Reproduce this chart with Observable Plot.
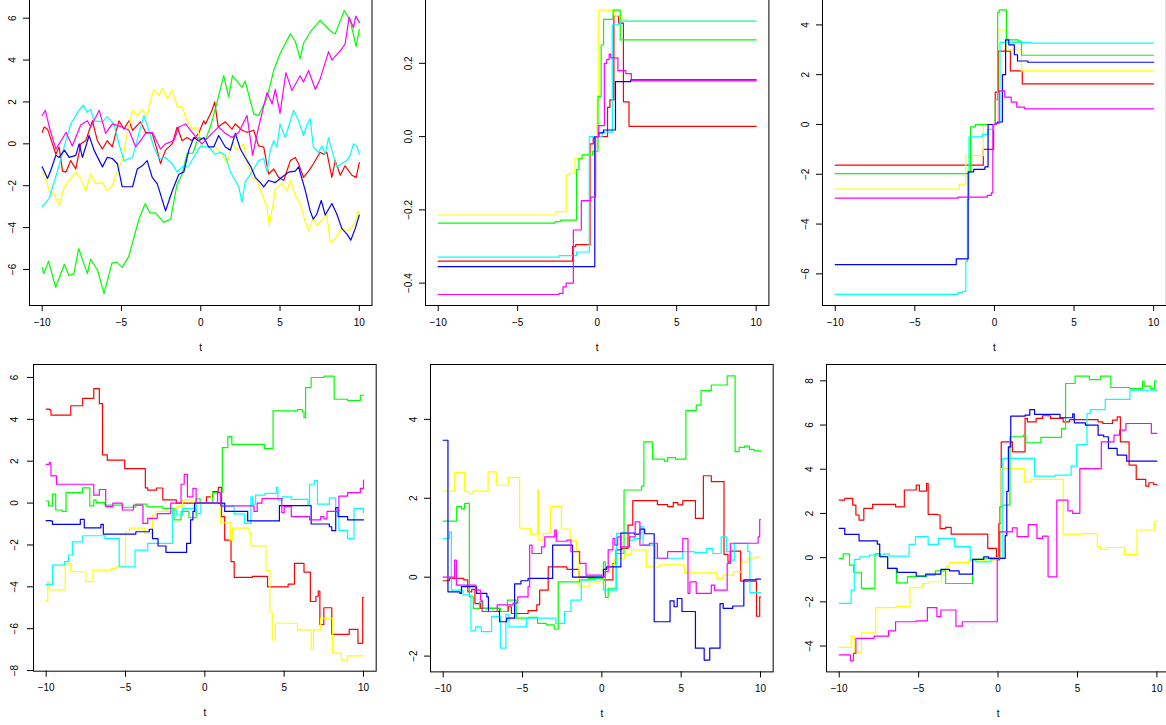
<!DOCTYPE html>
<html><head><meta charset="utf-8">
<script src="https://cdn.jsdelivr.net/npm/d3@7"></script>
<script src="https://cdn.jsdelivr.net/npm/@observablehq/plot@0.6"></script>
<style>
body{margin:0;background:#fff;}
#wrap{position:relative;width:1166px;height:725px;overflow:hidden;background:#fff;}
#wrap svg{position:absolute;}
</style></head><body><div id="wrap"></div>
<script>
const seriesNames = ["red","yellow","green","cyan","blue","magenta"];
const seriesColors = ["#FF0000","#FFFF00","#00FF00","#00FFFF","#0000FF","#FF00FF"];
const xTicks = [-10,-5,0,5,10];
const xLabel = "t";

// ---- Panel 1 (continuous paths), [t, value]
const p1_red = [[-10,0.55],[-9.87,0.8],[-9.66,0.7],[-9.35,0],[-9.14,-0.5],[-8.93,-0.15],[-8.72,-1.3],[-8.5,-1.35],[-8.2,-0.8],[-7.88,-1.2],[-7.57,0],[-7.25,0.15],[-6.83,1.1],[-6.52,0.15],[-6.2,-0.25],[-5.9,0.15],[-5.58,-0.15],[-5.16,1.1],[-4.84,0.7],[-4.53,1.1],[-4.3,0.65],[-3.8,1.05],[-3.48,0.55],[-3.06,0.5],[-2.75,-0.3],[-2.54,-0.95],[-2.22,-0.3],[-1.8,0],[-1.49,0.8],[-1.17,0.15],[-0.86,0.3],[-0.54,0.15],[-0.13,0.5],[0.19,1.1],[0.3,0.95],[0.71,1.6],[0.88,2.0],[1.1,0.8],[1.55,1.05],[1.97,0.7],[2.18,0.95],[2.6,0.65],[2.92,0.55],[3.34,0.65],[3.65,-0.1],[3.97,-0.15],[4.28,-1.45],[4.6,-1.2],[4.91,-1.6],[5.23,-1.75],[5.65,-0.8],[5.96,-0.65],[6.17,-0.95],[6.48,-1.6],[6.8,-1.3],[7.11,-0.95],[7.53,-0.4],[7.74,-0.5],[7.95,-0.4],[8.27,-1.6],[8.48,-0.8],[8.8,-1.5],[9.1,-1.05],[9.53,-1.5],[9.8,-1.6],[10,-0.9]];
const p1_yellow = [[-10,-1.35],[-9.77,-1.6],[-9.56,-2.25],[-9.25,-2.4],[-8.93,-2.95],[-8.6,-2.05],[-8.3,-1.75],[-7.88,-1.35],[-7.57,-1.65],[-7.25,-2.25],[-6.94,-1.45],[-6.62,-1.9],[-6.2,-1.85],[-5.9,-2.25],[-5.58,-2.0],[-5.26,-1.3],[-4.95,-0.8],[-4.63,0.5],[-4.3,1.6],[-4.0,1.35],[-3.69,1.65],[-3.38,1.35],[-3.17,2.05],[-2.96,2.6],[-2.64,2.3],[-2.43,2.65],[-2.1,2.15],[-1.8,2.55],[-1.49,1.8],[-1.17,1.75],[-0.86,1.1],[-0.54,0.7],[-0.23,0.8],[0.08,-0.15],[0.5,-0.15],[0.92,-0.15],[1.34,-0.5],[1.66,-0.95],[1.97,0],[2.29,-0.3],[2.7,0],[2.92,-0.8],[3.23,-1.6],[3.55,-1.75],[3.86,-2.4],[4.18,-3.0],[4.32,-3.9],[4.6,-2.7],[4.7,-2.15],[5.12,-1.9],[5.44,-2.25],[5.65,-1.75],[5.96,-2.45],[6.27,-2.85],[6.6,-3.75],[6.8,-4.15],[7.1,-3.5],[7.32,-3.9],[7.64,-3.65],[7.95,-3.35],[8.16,-4.7],[8.48,-4.55],[8.69,-4.3],[8.9,-4.0],[9.21,-4.15],[9.53,-4.0],[9.74,-3.75],[9.9,-3.2],[10,-3.35]];
const p1_green = [[-10,-5.9],[-9.9,-6.2],[-9.6,-5.6],[-9.15,-6.85],[-8.6,-5.75],[-8.3,-6.3],[-8.0,-6.2],[-7.7,-5.0],[-7.15,-6.2],[-6.95,-5.5],[-6.5,-6.05],[-6.1,-7.15],[-5.6,-5.7],[-5.3,-5.65],[-4.95,-5.9],[-4.55,-5.4],[-3.9,-3.6],[-3.5,-2.85],[-3.2,-3.3],[-2.85,-3.3],[-2.35,-3.75],[-1.9,-3.6],[-1.5,-1.95],[-1.2,-1.5],[-0.85,-0.45],[-0.5,-0.45],[-0.15,0.3],[0.3,0.2],[0.6,0.8],[1.0,1.9],[1.45,3.26],[1.76,2.23],[2.0,3.26],[2.6,2.7],[2.8,3.0],[3.34,1.43],[3.65,1.35],[4.18,2.2],[4.6,3.5],[5.0,4.3],[5.65,5.25],[5.96,4.9],[6.27,4.06],[6.48,4.8],[6.9,5.33],[7.53,5.9],[8.16,5.4],[8.48,5.25],[9.05,6.37],[9.42,5.9],[9.8,4.65],[10,5.45]];
const p1_cyan = [[-10,-3.0],[-9.56,-2.6],[-9.04,-1.3],[-8.6,-0.1],[-8.2,0.95],[-7.67,1.6],[-7.42,1.85],[-7.15,1.5],[-6.94,1.65],[-6.73,1.1],[-6.2,1.05],[-5.9,1.3],[-5.47,0.95],[-5.16,0],[-4.84,-0.8],[-4.3,-0.65],[-3.9,0.5],[-3.58,1.35],[-3.27,0.65],[-2.96,-0.15],[-2.64,-0.7],[-2.22,-0.65],[-1.8,-0.95],[-1.49,-1.35],[-1.17,-1.1],[-0.75,-1.05],[-0.33,-0.5],[0,-0.1],[0.5,-0.15],[0.92,-0.5],[1.24,-0.4],[1.55,-0.55],[1.87,-1.35],[2.18,-1.75],[2.4,-2.05],[2.6,-2.8],[2.8,-1.8],[3.0,-1.6],[3.34,-1.2],[3.65,-0.8],[3.97,-0.7],[4.18,-1.35],[4.39,-0.3],[4.6,0.15],[4.8,-0.15],[5.0,0.95],[5.33,0.3],[5.65,1.1],[5.86,1.6],[6.17,1.1],[6.48,0.4],[6.69,0.9],[6.9,1.2],[7.1,-0.15],[7.43,-0.4],[7.64,-0.1],[7.85,-0.5],[8.06,0.3],[8.27,-0.3],[8.58,-1.1],[8.9,-0.95],[9.21,-0.8],[9.42,-0.55],[9.63,0],[9.84,-0.1],[10,-0.5]];
const p1_blue = [[-10,-1.1],[-9.66,-1.65],[-9.45,-1.25],[-9.14,-0.55],[-8.93,-0.65],[-8.6,-0.3],[-8.3,-0.65],[-7.88,-0.55],[-7.67,0],[-7.46,-0.65],[-7.04,0.4],[-6.73,-0.3],[-6.2,-1.1],[-5.9,-0.65],[-5.58,-0.7],[-5.26,-0.95],[-4.95,-2.05],[-4.63,-2.05],[-4.3,-2.05],[-4.0,-1.2],[-3.69,-1.05],[-3.38,-0.8],[-3.06,-1.6],[-2.75,-1.9],[-2.54,-2.4],[-2.22,-3.2],[-1.8,-2.25],[-1.38,-1.45],[-1.07,-1.35],[-0.75,-0.3],[-0.44,0.3],[-0.13,0.15],[0.2,0.3],[0.5,-0.15],[0.82,-0.15],[1.13,0.4],[1.55,-0.15],[1.87,-0.3],[2.18,0.5],[2.5,-0.25],[2.8,-0.65],[3.13,-1.05],[3.44,-1.6],[3.76,-1.85],[3.97,-2.05],[4.28,-1.75],[4.7,-1.85],[5.12,-1.6],[5.54,-1.35],[5.96,-1.3],[6.17,-1.1],[6.6,-2.25],[6.9,-3.2],[7.1,-3.6],[7.32,-3.35],[7.6,-2.7],[7.85,-3.4],[8.27,-2.85],[8.58,-3.35],[8.9,-4.05],[9.21,-4.3],[9.46,-4.6],[9.74,-4.05],[10,-3.4]];
const p1_magenta = [[-10,1.35],[-9.8,1.6],[-9.55,0.8],[-9.14,-0.25],[-8.8,0.15],[-8.5,0.55],[-8.1,-0.1],[-7.57,0.9],[-7.15,1.1],[-6.94,0.8],[-6.4,1.6],[-6.0,0.5],[-5.58,0.95],[-4.95,0.8],[-4.53,0.65],[-4.1,-0.15],[-3.8,0.15],[-3.48,0.5],[-3.06,0.55],[-2.54,-0.25],[-2.22,0],[-1.7,0.15],[-1.38,0.8],[-0.96,0.95],[-0.54,0.55],[-0.13,0.15],[0.08,0],[0.71,0.5],[1.13,0.8],[1.55,0.5],[1.97,0.3],[2.4,0.55],[2.92,1.35],[3.27,-0.55],[3.65,0.8],[4.18,2.45],[4.5,1.9],[4.7,2.6],[5.0,1.45],[5.37,3.4],[5.75,2.55],[6.27,3.25],[6.48,2.95],[6.8,3.5],[7.22,2.6],[7.53,3.1],[8.06,4.4],[8.27,4.0],[8.8,4.45],[9.1,4.75],[9.36,6.05],[9.63,5.55],[9.78,6.1],[10,5.8]];

// ---- Panel 2 (step paths), [t where level starts, level]
const p2_red = [[-10,-0.34],[-1.55,-0.30],[-1.35,-0.295],[-0.45,-0.02],[-0.25,0.0],[0.65,0.08],[0.8,0.10],[1.05,0.33],[1.35,0.31],[1.65,0.095],[2.0,0.028],[10,0.028]];
const p2_yellow = [[-10,-0.214],[-2.6,-0.205],[-1.95,-0.105],[-1.75,-0.10],[-1.4,-0.06],[-0.85,-0.05],[-0.25,-0.03],[0.0,0.10],[0.1,0.345],[1.0,0.345],[1.1,0.33],[1.55,0.32],[1.9,0.315],[10,0.315]];
const p2_green = [[-10,-0.236],[-2.65,-0.232],[-2.3,-0.228],[-1.3,-0.09],[-1.15,-0.06],[-0.95,-0.05],[-0.3,-0.04],[0.05,0.11],[0.25,0.25],[0.4,0.32],[1.0,0.345],[1.45,0.264],[10,0.264]];
const p2_cyan = [[-10,-0.329],[-2.4,-0.325],[-1.3,-0.315],[-0.5,0.0],[0.3,0.012],[0.95,0.305],[1.45,0.315],[10,0.315]];
const p2_blue = [[-10,-0.355],[-0.15,0.0],[0.1,0.01],[0.4,0.018],[1.15,0.15],[2.1,0.155],[10,0.155]];
const p2_magenta = [[-10,-0.431],[-2.4,-0.428],[-2.15,-0.41],[-1.95,-0.40],[-1.5,-0.255],[-1.0,-0.175],[-0.4,-0.165],[-0.1,0.0],[0.1,0.03],[0.45,0.2],[0.6,0.21],[0.75,0.225],[0.85,0.215],[1.3,0.18],[1.8,0.172],[2.15,0.152],[10,0.152]];

// ---- Panel 3
const p3_red = [[-10,-1.63],[-0.7,-1.0],[-0.05,0.0],[0.05,1.3],[0.25,2.95],[1.0,2.15],[1.75,1.63],[10,1.63]];
const p3_yellow = [[-10,-2.6],[-2.2,-2.4],[-1.8,-1.25],[-0.7,0.0],[0.2,3.8],[0.75,3.0],[1.7,2.15],[10,2.15]];
const p3_green = [[-10,-1.97],[-1.65,-1.92],[-1.5,-0.1],[-1.2,0.0],[0.05,1.0],[0.2,4.5],[0.3,4.6],[0.75,3.4],[1.5,3.35],[1.7,2.78],[10,2.78]];
const p3_cyan = [[-10,-6.82],[-2.3,-6.75],[-2.0,-6.7],[-1.8,-5.5],[-1.7,-3.0],[-1.6,-0.5],[-0.75,-0.4],[-0.4,-0.2],[-0.05,0.0],[0.1,0.05],[0.35,3.3],[2.3,3.27],[10,3.27]];
const p3_blue = [[-10,-5.63],[-2.4,-5.4],[-1.65,-1.9],[-1.3,-1.8],[-0.6,-1.7],[-0.4,0.0],[0.1,0.05],[0.2,0.1],[0.5,2.0],[0.7,3.4],[0.9,3.2],[1.25,2.8],[1.45,2.55],[2.1,2.5],[10,2.5]];
const p3_magenta = [[-10,-2.96],[-2.3,-2.92],[-0.45,-2.85],[-0.2,-2.75],[-0.1,0.0],[0.1,0.05],[0.3,1.35],[0.65,1.1],[1.05,0.9],[1.4,0.7],[1.9,0.63],[10,0.63]];

// ---- Panel 4
const p4_red = [[-10,4.49],[-9.8,4.45],[-9.7,4.2],[-8.45,4.65],[-7.7,5.0],[-7.0,5.47],[-6.65,4.75],[-6.45,2.3],[-6.15,2.05],[-5.05,1.65],[-3.75,0.73],[-3.6,0.62],[-3.05,0.72],[-2.65,0.15],[-1.8,0.0],[0.1,0.3],[0.5,0.55],[0.85,0.75],[1.05,-0.65],[1.25,-1.77],[1.65,-2.8],[1.85,-3.55],[3.0,-3.5],[3.95,-4.0],[5.25,-3.87],[5.65,-2.88],[6.25,-3.3],[6.65,-4.7],[7.0,-4.45],[7.15,-4.2],[7.25,-5.8],[7.5,-5.0],[8.0,-6.27],[9.1,-6.03],[9.65,-6.7],[9.95,-4.5],[10,-4.5]];
const p4_yellow = [[-10,-4.66],[-9.9,-3.75],[-9.8,-4.15],[-8.8,-2.9],[-8.45,-3.28],[-7.5,-3.75],[-7.05,-3.2],[-5.9,-3.12],[-5.6,-3.04],[-5.0,-1.37],[-4.75,-1.2],[-3.8,-1.45],[-3.3,-0.57],[-3.1,-0.4],[-2.0,-0.25],[-1.8,-0.18],[-1.4,0.15],[-0.8,0.06],[-0.15,0.0],[0.4,0.46],[0.98,-0.94],[1.6,-1.77],[1.75,-1.2],[2.8,-1.4],[2.9,-2.04],[3.85,-3.23],[4.1,-5.2],[4.25,-6.54],[4.45,-5.74],[5.85,-6.06],[6.7,-7.0],[6.85,-6.06],[7.3,-5.5],[8.05,-7.17],[8.6,-7.5],[9.0,-7.3],[10,-7.3]];
const p4_green = [[-10,0.1],[-9.85,-0.13],[-9.6,0.43],[-9.4,-0.33],[-9.0,-0.4],[-8.75,0.5],[-7.7,0.73],[-7.25,-0.13],[-7.0,0.15],[-6.85,0.02],[-6.3,-0.1],[-5.2,-0.2],[-4.35,-0.05],[-3.65,-0.18],[-2.65,-0.25],[-1.95,-0.8],[-1.5,-0.4],[-1.0,-0.7],[-0.55,0.2],[-0.3,0.0],[0.5,0.5],[1.1,2.65],[1.45,3.17],[1.7,2.8],[3.75,2.6],[4.3,4.4],[5.85,4.47],[6.15,4.35],[6.25,4.08],[6.35,5.52],[6.7,6.0],[7.5,6.06],[8.15,4.96],[9.0,4.9],[9.8,5.15],[10,5.15]];
const p4_cyan = [[-10,-3.88],[-9.6,-2.96],[-8.85,-2.8],[-8.6,-2.48],[-8.35,-1.85],[-7.7,-1.56],[-6.3,-1.7],[-5.4,-3.04],[-4.4,-2.25],[-3.6,-1.92],[-2.05,-0.33],[-1.8,-0.57],[-1.4,-0.25],[-0.55,-0.5],[-0.25,0.0],[1.1,-0.17],[1.85,-0.52],[2.5,-0.97],[2.9,0.3],[3.0,-0.05],[3.2,0.38],[3.8,0.46],[4.5,0.75],[4.6,0.15],[4.9,0.3],[5.45,0.18],[6.5,-0.1],[6.6,0.9],[6.9,1.07],[7.1,-0.05],[7.85,0.25],[8.25,-0.42],[8.45,-1.3],[9.0,-1.7],[9.4,-0.25],[10,-0.45]];
const p4_blue = [[-10,-0.84],[-9.7,-0.86],[-9.6,-1.02],[-7.85,-0.78],[-7.6,-1.18],[-6.55,-1.02],[-6.4,-1.48],[-4.35,-1.37],[-3.5,-1.25],[-3.3,-1.7],[-2.95,-2.05],[-2.45,-2.35],[-1.15,-1.92],[-0.9,-0.8],[-0.75,-0.4],[-0.65,0.0],[1.25,-0.4],[2.7,-0.85],[4.7,-0.12],[6.7,-1.0],[7.85,-1.13],[8.0,-1.32],[8.25,-0.22],[8.4,-0.65],[9.0,-0.8],[10,-0.8]];
const p4_magenta = [[-10,1.85],[-9.8,1.93],[-9.7,1.3],[-9.35,0.9],[-7.0,0.38],[-6.65,0.65],[-6.25,-0.17],[-5.8,0.0],[-5.2,-0.33],[-4.5,-0.1],[-3.9,-0.97],[-3.6,-0.73],[-3.0,-0.5],[-2.15,0.0],[-1.5,0.9],[-1.3,1.37],[-1.1,0.3],[-0.75,0.7],[-0.55,0.0],[0.8,0.5],[1.0,-0.13],[3.1,-0.4],[3.3,0.0],[3.6,0.22],[4.85,-0.45],[5.0,-0.17],[5.45,-0.65],[6.6,-0.8],[7.3,-0.65],[7.5,-0.75],[7.7,-0.4],[8.45,0.33],[9.0,0.5],[9.8,0.7],[10,1.1]];

// ---- Panel 5
const p5_red = [[-10,-0.09],[-9.6,-0.03],[-8.7,-0.07],[-8.45,-0.37],[-8.2,-0.31],[-8.0,-0.67],[-7.65,-0.79],[-6.45,-0.87],[-5.9,-0.75],[-5.7,-0.92],[-4.65,-0.85],[-4.1,-0.7],[-3.92,-0.33],[-3.38,0.26],[-2.2,0.2],[-1.45,0.0],[0.1,-0.07],[0.7,0.35],[0.9,0.69],[1.25,0.73],[1.65,1.32],[1.95,1.94],[3.5,1.84],[4.15,1.79],[4.5,1.89],[4.8,1.83],[5.1,1.94],[5.9,1.49],[6.4,2.57],[6.9,2.42],[7.7,0.58],[7.95,0.39],[8.1,0.66],[8.75,-0.1],[9.75,-0.99],[9.95,-0.5],[10,-0.5]];
const p5_yellow = [[-10,2.18],[-9.28,2.65],[-8.65,2.17],[-8.35,2.12],[-8.15,2.18],[-7.17,2.67],[-6.65,2.33],[-5.9,2.53],[-5.18,1.24],[-4.5,1.09],[-4.05,2.2],[-3.97,0.94],[-3.7,1.11],[-3.23,1.79],[-2.55,1.22],[-2.0,0.94],[-1.6,0.69],[-1.45,-0.23],[-0.77,-0.12],[0.1,0.1],[0.5,0.31],[0.8,0.48],[1.45,0.58],[1.85,0.69],[2.8,0.26],[3.65,0.31],[5.2,0.11],[7.25,-0.03],[7.65,0.05],[8.3,0.14],[8.8,0.39],[9.2,0.48],[9.6,0.5],[10,0.5]];
const p5_green = [[-10,1.42],[-9.15,1.79],[-8.85,1.73],[-8.65,1.87],[-8.35,-0.5],[-8.1,-0.79],[-7.7,-0.62],[-7.5,-0.79],[-6.4,-0.87],[-5.95,-0.58],[-5.4,-1.04],[-4.65,-1.02],[-4.05,-1.17],[-3.5,-1.21],[-3.0,-1.32],[-2.75,-0.12],[-1.4,-0.07],[-0.85,-0.03],[0.1,0.39],[0.22,-0.51],[0.4,-0.28],[0.9,0.6],[1.4,2.21],[2.5,2.31],[2.65,3.43],[3.2,2.99],[3.95,2.94],[4.15,3.03],[4.65,2.99],[5.3,4.22],[5.95,4.36],[6.25,4.73],[6.9,4.87],[7.9,5.1],[8.4,3.18],[8.65,3.29],[9.0,3.32],[9.3,3.24],[9.6,3.2],[10,3.18]];
const p5_cyan = [[-10,0.98],[-9.6,1.15],[-9.48,-0.33],[-8.75,-0.45],[-8.25,-1.36],[-7.95,-1.26],[-7.6,-1.38],[-6.95,-1.0],[-6.4,-1.8],[-6.05,-0.94],[-5.85,-1.26],[-4.75,-1.04],[-2.9,-1.17],[-2.35,-0.87],[-1.95,-0.58],[-1.3,-0.07],[-0.35,0.01],[0.1,-0.33],[0.92,1.11],[1.75,0.94],[2.05,0.98],[2.45,1.28],[2.6,0.81],[3.35,0.48],[5.1,0.65],[5.85,0.62],[6.6,0.73],[7.0,0.6],[7.52,1.02],[7.85,0.65],[8.15,0.43],[8.35,0.86],[9.2,0.65],[9.33,-0.39],[10,-0.39]];
const p5_blue = [[-10,3.47],[-9.7,-0.37],[-8.95,-0.41],[-8.85,-0.24],[-7.9,-0.41],[-7.25,-0.5],[-7.15,-0.87],[-6.45,-1.13],[-6.0,-1.04],[-5.5,-0.17],[-5.1,-0.09],[-4.65,-0.03],[-3.1,0.81],[-1.85,0.0],[0.1,0.2],[0.3,0.26],[1.2,1.12],[2.05,1.09],[2.4,1.22],[2.7,1.1],[3.3,-1.13],[4.3,-0.6],[4.55,-0.75],[4.75,-0.54],[5.05,-0.87],[5.9,-1.8],[6.45,-2.1],[6.8,-1.8],[7.45,-0.67],[7.65,-0.79],[8.25,-0.73],[8.95,-0.07],[9.7,-0.05],[10,-0.05]];
const p5_magenta = [[-10,0.0],[-9.28,0.43],[-9.17,-0.2],[-7.95,-0.33],[-7.65,-0.58],[-7.55,-0.87],[-6.6,-0.7],[-5.6,-0.66],[-5.3,-0.5],[-4.65,-0.24],[-4.55,0.81],[-4.4,0.6],[-3.8,0.77],[-3.6,1.02],[-2.97,1.19],[-2.87,0.91],[-2.2,0.94],[-1.95,0.65],[-1.4,0.35],[-1.0,0.05],[0.0,0.01],[0.2,0.14],[0.4,0.69],[0.7,0.98],[0.82,0.81],[1.0,1.02],[1.2,0.77],[1.75,1.02],[2.1,1.4],[2.4,0.81],[3.0,0.86],[3.5,0.48],[4.15,0.65],[5.1,0.98],[5.43,-0.41],[5.55,-0.12],[5.95,-0.41],[6.9,-0.2],[7.1,-0.33],[7.9,0.35],[8.1,0.86],[9.85,1.02],[9.95,1.46],[10,1.46]];

// ---- Panel 6
const p6_red = [[-10,2.6],[-9.65,2.68],[-9.15,2.38],[-8.95,1.93],[-8.75,1.7],[-8.45,2.23],[-7.9,2.41],[-6.45,2.3],[-5.9,3.06],[-5.15,3.28],[-4.95,3.01],[-4.5,3.36],[-4.4,1.96],[-3.8,1.93],[-3.65,1.31],[-3.3,1.37],[-2.95,1.06],[-0.65,0.42],[-0.1,0.04],[0.05,1.55],[0.2,5.24],[0.9,4.79],[1.7,6.3],[1.85,6.14],[2.4,6.3],[2.8,6.42],[3.3,6.3],[4.1,6.14],[4.5,6.25],[6.3,6.14],[6.6,6.07],[7.2,6.22],[7.5,6.37],[7.7,5.24],[8.25,4.19],[8.7,3.54],[9.3,3.24],[9.5,3.39],[9.8,3.31],[10,3.31]];
const p6_yellow = [[-10,-4.06],[-9.25,-3.55],[-9.05,-4.3],[-8.6,-3.4],[-7.7,-2.26],[-6.45,-2.22],[-5.55,-1.36],[-4.75,-1.17],[-4.35,-1.09],[-3.55,-0.79],[-3.3,-0.41],[-3.05,-0.23],[-1.85,-0.11],[0.0,0.04],[0.2,4.03],[1.65,3.43],[2.05,3.54],[4.1,1.06],[5.35,1.09],[6.25,0.49],[6.45,0.37],[6.85,0.46],[7.95,0.14],[8.75,1.25],[9.85,1.64],[10,1.64]];
const p6_green = [[-10,-0.03],[-9.75,0.17],[-9.35,-0.34],[-9.1,-0.66],[-8.6,-1.39],[-7.75,0.17],[-7.4,0.04],[-6.95,-0.49],[-6.4,-1.14],[-5.7,-0.86],[-4.5,-0.79],[-3.95,-0.6],[-3.3,-1.17],[-1.6,-0.08],[-0.95,-0.02],[0.1,2.3],[0.3,2.38],[0.75,5.47],[1.6,5.54],[1.75,5.2],[2.7,5.44],[4.0,5.84],[4.25,7.88],[4.85,8.21],[5.75,8.06],[6.45,8.21],[7.1,7.7],[8.3,7.65],[9.1,7.99],[9.2,7.76],[9.6,7.65],[9.85,7.99],[10,7.99]];
const p6_cyan = [[-10,-2.07],[-9.25,-1.47],[-9.05,-0.08],[-8.7,0.04],[-8.1,0.12],[-7.2,0.17],[-6.85,0.07],[-5.6,0.6],[-5.2,0.95],[-4.4,0.6],[-3.75,0.87],[-2.75,0.5],[-1.75,-0.11],[-1.4,-0.19],[-0.45,-0.08],[0.1,-0.02],[0.3,4.49],[2.3,3.69],[3.6,3.73],[4.6,4.14],[4.95,5.12],[5.6,6.52],[5.8,6.7],[6.75,7.16],[8.3,7.58],[10,7.58]];
const p6_blue = [[-10,1.32],[-9.65,1.05],[-8.75,0.76],[-7.6,0.61],[-7.45,0.04],[-6.95,-0.49],[-6.35,-0.67],[-5.15,-0.83],[-4.55,-0.75],[-3.6,-0.53],[-3.05,-0.6],[-2.45,-0.75],[-1.6,-0.08],[-0.9,0.04],[-0.6,-0.03],[0.45,1.0],[0.55,3.0],[0.65,5.01],[0.8,6.4],[1.7,6.45],[2.0,6.7],[2.3,6.48],[3.9,6.33],[4.7,6.51],[4.8,6.1],[5.5,6.0],[6.3,5.54],[6.65,5.47],[6.95,4.94],[7.5,4.64],[8.1,4.37],[10,4.37]];
const p6_magenta = [[-10,-4.4],[-9.3,-4.67],[-9.1,-4.33],[-8.95,-3.65],[-7.8,-3.55],[-6.9,-3.31],[-6.45,-2.9],[-5.15,-2.86],[-4.45,-2.26],[-3.85,-2.67],[-3.6,-2.37],[-2.65,-3.1],[-2.25,-2.9],[-0.05,-0.1],[0.1,1.17],[0.9,1.35],[1.2,0.95],[1.9,1.49],[2.45,0.87],[2.8,0.97],[3.15,-0.87],[3.7,2.6],[4.4,2.12],[4.7,2.0],[5.15,4.03],[6.5,5.24],[7.3,5.54],[7.65,5.77],[8.05,6.07],[9.65,5.62],[10,5.62]];

// y tick values and labels
const p1_yTicks = [-6,-4,-2,0,2,4,6];
const p2_yTicks = [-0.4,-0.2,0,0.2];
const p2_yTickLabels = ["\u22120.4","\u22120.2","0.0","0.2"];
const p3_yTicks = [-6,-4,-2,0,2,4];
const p4_yTicks = [-8,-6,-4,-2,0,2,4,6];
const p5_yTicks = [-2,0,2,4];
const p6_yTicks = [-8 + 4, -2, 0, 2, 4, 6, 8];

const fmtInt = d => d < 0 ? "\u2212" + Math.abs(d) : String(d);

const panels = [
  {series:[p1_red,p1_yellow,p1_green,p1_cyan,p1_blue,p1_magenta], curve:"linear",
   yTicks:p1_yTicks, yLabels:p1_yTicks.map(fmtInt), box:[29,-2,371.5,305], yDomain:[-7.72,6.94], ldx:-17},
  {series:[p2_red,p2_yellow,p2_green,p2_cyan,p2_blue,p2_magenta], curve:"step-after",
   yTicks:p2_yTicks, yLabels:p2_yTickLabels, box:[425,-2,768.4,305], yDomain:[-0.461,0.377], ldx:-17},
  {series:[p3_red,p3_yellow,p3_green,p3_cyan,p3_blue,p3_magenta], curve:"step-after",
   yTicks:p3_yTicks, yLabels:p3_yTicks.map(fmtInt), box:[821.6,-2,1165.5,305], yDomain:[-7.27,5.06], ldx:-17},
  {series:[p4_red,p4_yellow,p4_green,p4_cyan,p4_blue,p4_magenta], curve:"step-after",
   yTicks:p4_yTicks, yLabels:p4_yTicks.map(fmtInt), box:[33.3,364.3,376,671], yDomain:[-8.03,6.62], ldx:-19},
  {series:[p5_red,p5_yellow,p5_green,p5_cyan,p5_blue,p5_magenta], curve:"step-after",
   yTicks:p5_yTicks, yLabels:p5_yTicks.map(fmtInt), box:[430,364.3,772.7,671.7], yDomain:[-2.40,5.39], ldx:-17},
  {series:[p6_red,p6_yellow,p6_green,p6_cyan,p6_blue,p6_magenta], curve:"step-after",
   yTicks:p6_yTicks, yLabels:p6_yTicks.map(fmtInt), box:[826.3,364.3,1169.4,671.7], yDomain:[-5.17,8.74], ldx:-17}
];

const wrap = document.getElementById("wrap");
const ML = 40, MR = 10, MT = 10, MB = 50;
const font = "'Liberation Sans', Arial, Helvetica, sans-serif";

for (const p of panels) {
  const [bl, bt, br, bb] = p.box;
  const rows = [];
  p.series.forEach((s, k) => {
    for (const [t, v] of s) rows.push({t, v, s: seriesNames[k], c: seriesColors[k]});
  });
  const svg = Plot.plot({
    width: br - bl + ML + MR,
    height: bb - bt + MT + MB,
    marginLeft: ML, marginRight: MR, marginTop: MT, marginBottom: MB,
    x: {domain: [-10.8, 10.8]},
    y: {domain: p.yDomain},
    style: {fontFamily: font, fontSize: "10px", color: "#000", background: "transparent", overflow: "visible"},
    marks: [
      Plot.line(rows, {x: "t", y: "v", z: "s", stroke: "c", curve: p.curve, strokeWidth: 1.2}),
      Plot.frame({stroke: "#000", strokeWidth: 1}),
      Plot.axisX({ticks: xTicks, tickSize: 6, tickPadding: 7, label: null, fontSize: 10}),
      Plot.axisY({ticks: p.yTicks, tickSize: 6, tickFormat: () => "", label: null}),
      Plot.text(p.yTicks, {y: d => d, text: (d, i) => p.yLabels[i], frameAnchor: "left", rotate: -90,
        dx: p.ldx, textAnchor: "middle", lineAnchor: "middle", fontSize: 10, fill: "#000"}),
      Plot.text([xLabel], {text: d => d, frameAnchor: "bottom", dy: 42, textAnchor: "middle",
        lineAnchor: "middle", fontSize: 10, fill: "#000"})
    ]
  });
  svg.style.left = (bl - ML) + "px";
  svg.style.top = (bt - MT) + "px";
  wrap.appendChild(svg);
}
</script>
</body></html>
